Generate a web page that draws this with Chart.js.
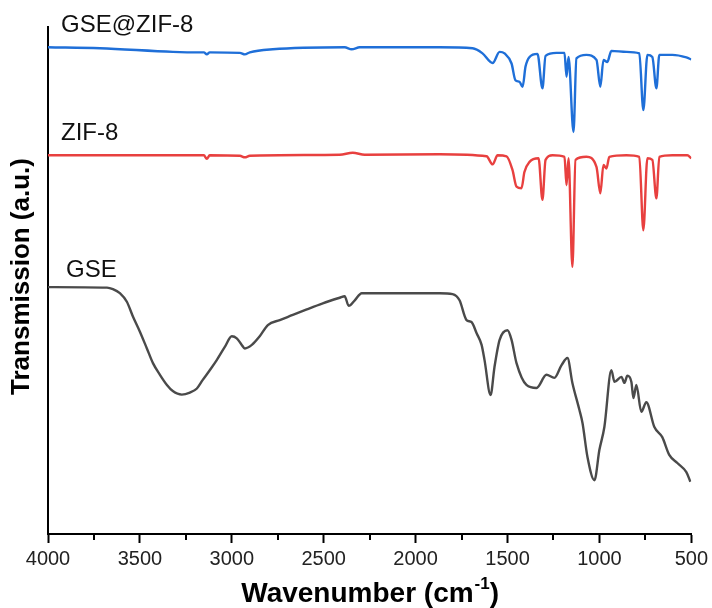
<!DOCTYPE html>
<html>
<head>
<meta charset="utf-8">
<script src="https://cdn.jsdelivr.net/npm/chart.js@4/dist/chart.umd.min.js"></script>
<style>
  html, body { margin: 0; padding: 0; background: #fff; }
  #wrap { width: 712px; height: 608px; }
</style>
</head>
<body>
<div id="wrap"><canvas id="ftir" width="712" height="608"></canvas></div>
<script>
'use strict';

/* data: wavenumber (cm-1) and transmission (a.u.) */
var xTicks = [4000, 3500, 3000, 2500, 2000, 1500, 1000, 500];

var compWn = [4000, 3717, 3321, 3174, 3152, 3136, 3120, 2956, 2929, 2902, 2777, 2386, 2348, 2304,
  1869, 1690, 1636, 1581, 1543, 1516, 1478, 1457, 1435, 1418, 1402, 1380, 1337, 1310, 1293,
  1234, 1190, 1179, 1168, 1141, 1125, 1071, 1016, 995, 978, 957, 935, 853, 783, 761, 739,
  712, 690, 674, 603, 527, 500];
var compT = [96.0, 95.8, 95.1, 95.0, 95.0, 94.6, 95.0, 94.9, 94.6, 95.0, 95.6, 96.0, 95.6, 96.0,
  96.0, 95.8, 94.8, 92.9, 95.1, 94.8, 92.8, 89.5, 89.2, 88.2, 92.2, 94.1, 94.7, 87.9, 94.3,
  94.9, 94.9, 90.2, 94.1, 79.3, 93.8, 94.5, 93.5, 88.2, 93.5, 93.1, 95.3, 95.1, 94.8, 83.6, 94.5,
  94.1, 87.9, 94.5, 94.5, 94.0, 93.6];

var zifWn = [4000, 3321, 3152, 3136, 3120, 2956, 2929, 2902, 2413, 2342, 2277,
  1869, 1614, 1581, 1554, 1505, 1473, 1451, 1424, 1408, 1380, 1331, 1310, 1293, 1255,
  1190, 1179, 1168, 1147, 1130, 1071, 1016, 995, 978, 962, 946, 853, 783, 761, 739,
  712, 690, 674, 603, 522, 500];
var zifT = [74.7, 74.7, 74.7, 74.0, 74.7, 74.6, 74.3, 74.6, 74.8, 75.2, 74.8,
  74.9, 74.5, 72.9, 74.7, 74.5, 71.8, 68.5, 68.2, 71.4, 73.4, 74.1, 65.9, 73.8, 74.7,
  74.4, 68.8, 74.1, 52.7, 73.8, 74.4, 72.4, 67.2, 72.8, 72.1, 74.4, 74.7, 74.4, 59.9, 74.1,
  73.8, 66.2, 74.4, 74.7, 74.7, 74.1];

var gseWn = [4000, 3679, 3647, 3609, 3571, 3538, 3500, 3462, 3429, 3391, 3353, 3321, 3272, 3228,
  3190, 3158, 3120, 3082, 3038, 3000, 2973, 2946, 2929, 2891, 2848, 2804, 2739, 2668, 2592,
  2505, 2413, 2386, 2364, 2331, 2293, 2234, 1869, 1799, 1761, 1723, 1696, 1668, 1641, 1625,
  1592, 1571, 1543, 1500, 1478, 1451, 1397, 1342, 1288, 1245, 1206, 1174, 1147, 1109, 1092,
  1065, 1027, 1000, 973, 935, 918, 880, 864, 848, 826, 815, 799, 772, 745, 701, 658, 620,
  576, 527, 505];
var gseT = [48.7, 48.6, 48.3, 47.5, 45.8, 42.9, 39.9, 36.6, 33.7, 31.4, 29.4, 28.2, 27.5, 27.9,
  28.7, 30.4, 32.3, 34.3, 36.9, 39.0, 38.6, 37.3, 36.6, 37.3, 39.0, 41.2, 42.2, 43.2, 44.3,
  45.5, 46.6, 46.9, 45.0, 46.1, 47.5, 47.5, 47.5, 47.3, 46.1, 42.2, 41.8, 39.6, 37.3, 34.3,
  27.4, 32.9, 38.3, 40.2, 38.3, 33.7, 29.4, 28.8, 31.4, 30.8, 33.3, 34.7, 29.8, 24.5, 21.9,
  15.2, 10.6, 16.6, 21.1, 32.3, 30.0, 31.0, 29.8, 31.2, 30.0, 26.8, 29.4, 24.1, 26.0, 21.1, 19.1, 15.6,
  14.0, 12.2, 10.3];

var seriesNames = ['GSE@ZIF-8', 'ZIF-8', 'GSE'];

var FONT = 'Arial, "Liberation Sans", sans-serif';

function toPoints(xs, ys) {
  var pts = [];
  for (var i = 0; i < xs.length; i++) {
    pts.push({ x: xs[i], y: ys[i] });
  }
  return pts;
}

/* series names, minor ticks and axis titles */
var decorations = {
  id: 'decorations',
  afterDraw: function (chart) {
    var ctx = chart.ctx;
    var area = chart.chartArea;
    var xs = chart.scales.x;

    ctx.save();
    ctx.strokeStyle = '#000';
    ctx.lineWidth = 2;
    for (var v = 750; v < 4000; v += 500) {
      var px = Math.round(xs.getPixelForValue(v));
      ctx.beginPath();
      ctx.moveTo(px, area.bottom);
      ctx.lineTo(px, area.bottom + 6);
      ctx.stroke();
    }

    ctx.fillStyle = '#111';
    ctx.textBaseline = 'alphabetic';
    ctx.textAlign = 'left';
    ctx.font = '24px ' + FONT;
    ctx.fillText(seriesNames[0], 61, 32);
    ctx.fillText(seriesNames[1], 61, 140);
    ctx.fillText(seriesNames[2], 66, 277);

    /* x title with superscript */
    ctx.fillStyle = '#000';
    var main = 'Wavenumber (cm';
    var sup = '-1';
    var close = ')';
    ctx.font = 'bold 28px ' + FONT;
    var w1 = ctx.measureText(main).width;
    var w3 = ctx.measureText(close).width;
    ctx.font = 'bold 17px ' + FONT;
    var w2 = ctx.measureText(sup).width;
    var cx = (area.left + area.right) / 2;
    var start = cx - (w1 + w2 + w3) / 2;
    var base = 602;
    ctx.font = 'bold 28px ' + FONT;
    ctx.fillText(main, start, base);
    ctx.fillText(close, start + w1 + w2 + 1, base);
    ctx.font = 'bold 17px ' + FONT;
    ctx.fillText(sup, start + w1 + 1, base - 13);

    /* y title */
    ctx.translate(22, (area.top + area.bottom) / 2 - 4);
    ctx.rotate(-Math.PI / 2);
    ctx.textAlign = 'center';
    ctx.textBaseline = 'middle';
    ctx.font = 'bold 26px ' + FONT;
    ctx.fillText('Transmission (a.u.)', 0, 0);
    ctx.restore();
  }
};

var chart = new Chart(document.getElementById('ftir').getContext('2d'), {
  type: 'line',
  data: {
    datasets: [
      {
        label: seriesNames[0],
        data: toPoints(compWn, compT),
        borderColor: '#1f6fd8',
        borderWidth: 2.4
      },
      {
        label: seriesNames[1],
        data: toPoints(zifWn, zifT),
        borderColor: '#e8403f',
        borderWidth: 2.4
      },
      {
        label: seriesNames[2],
        data: toPoints(gseWn, gseT),
        borderColor: '#4a4a4a',
        borderWidth: 2.4
      }
    ]
  },
  options: {
    responsive: false,
    animation: false,
    devicePixelRatio: 1,
    layout: { padding: { top: 27, right: 20, left: 0, bottom: 0 } },
    elements: { point: { radius: 0 }, line: { cubicInterpolationMode: 'monotone' } },
    plugins: {
      legend: { display: false },
      tooltip: { enabled: false }
    },
    scales: {
      x: {
        type: 'linear',
        reverse: true,
        min: 500,
        max: 4000,
        afterFit: function (s) { s.height = 74; },
        afterBuildTicks: function (s) {
          s.ticks = xTicks.map(function (v) { return { value: v }; });
        },
        ticks: {
          autoSkip: false,
          maxRotation: 0,
          padding: 4,
          color: '#222',
          font: { family: FONT, size: 20 },
          callback: function (v) { return String(v); }
        },
        grid: {
          display: true,
          drawOnChartArea: false,
          drawTicks: true,
          tickLength: 9,
          tickColor: '#000',
          tickWidth: 2
        },
        border: { display: true, color: '#000', width: 2 }
      },
      y: {
        min: 0,
        max: 100,
        afterFit: function (s) { s.width = 48; },
        ticks: { display: false },
        grid: { display: false, drawTicks: false },
        border: { display: true, color: '#000', width: 2 }
      }
    }
  },
  plugins: [decorations]
});
</script>
</body>
</html>
